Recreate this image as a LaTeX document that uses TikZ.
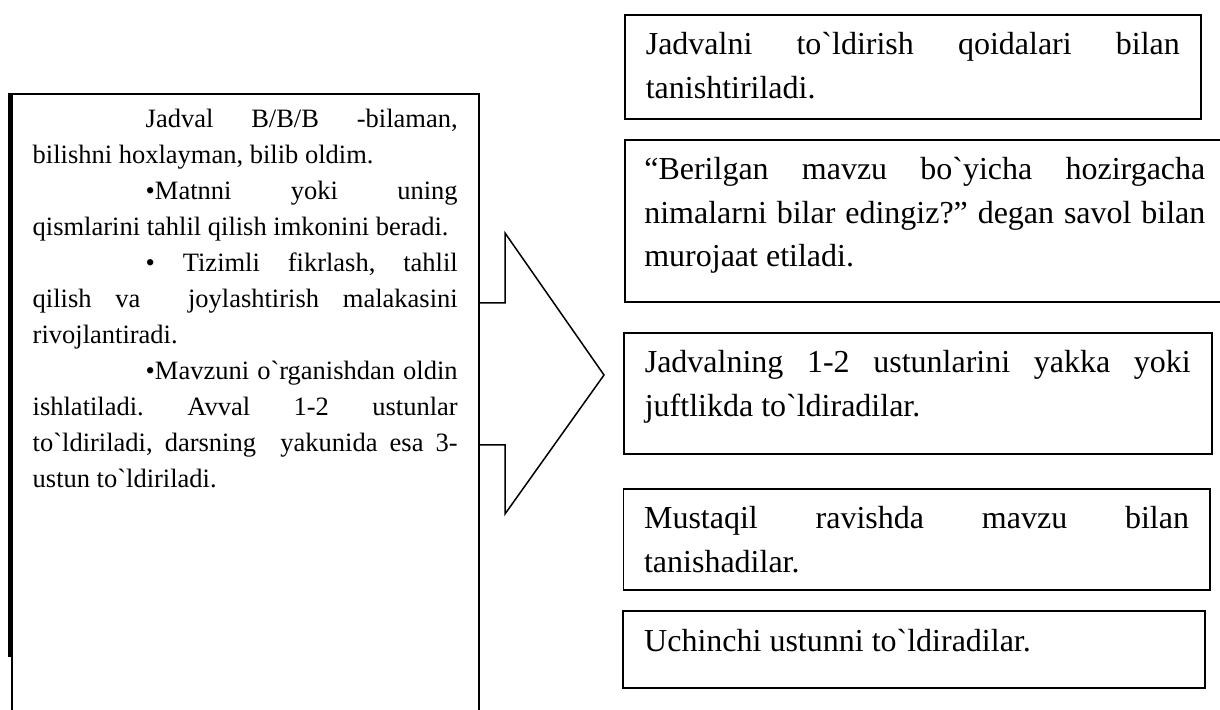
\documentclass[tikz,border=0pt]{standalone}
\usepackage{fontspec}
\setmainfont{Liberation Serif}
\newfontfamily\uz{Liberation Serif}
\hyphenpenalty=10000
\exhyphenpenalty=10000
\tolerance=10000
\frenchspacing
\begin{document}
\begin{tikzpicture}[x=0.5pt,y=-0.5pt]
\tikzstyle{lbox} = [draw=black, line width=0.9pt, anchor=north west, inner xsep=10.5pt, inner ysep=0pt, align=justify, font=\uz\fontsize{13.25pt}{18pt}\selectfont]
\tikzstyle{rbox} = [draw=black, line width=0.8pt, anchor=north west, inner sep=0pt, text height=20pt, align=justify, font=\uz\fontsize{16pt}{21.75pt}\selectfont]
\tikzstyle{arrowline} = [draw=black, line width=0.75pt, line join=miter]

\useasboundingbox (0,0) rectangle (1220,710);
\clip (0,0) rectangle (1220,710);

\node[lbox, text width=212.5pt, text height=17pt, text depth=316.5pt] (info) at (10.8,93) {\setlength\parindent{56.5pt}\hspace*{56.5pt}Jadval B/B/B -bilaman, \linebreak bilishni hoxlayman, bilib oldim.\par
•Matnni yoki uning \linebreak qismlarini tahlil qilish imkonini beradi.\par
• Tizimli fikrlash, tahlil \linebreak qilish va \ joylashtirish malakasini \linebreak rivojlantiradi.\par
•Mavzuni o`rganishdan oldin \linebreak ishlatiladi. Avval 1-2 ustunlar \linebreak to`ldiriladi, darsning \ yakunida esa 3-\linebreak ustun to`ldiriladi.};
\draw[line width=1.35pt] (9.3,93) -- (9.3,657);

\draw[arrowline] (478,303) -| (505,233) -- (604,375) -- (505,514) |- (478,445);

\node[rbox, text width=267pt, minimum width=288pt, text depth=32pt] (rules) at (624,14) {Jadvalni to`ldirish qoidalari bilan tanishtiriladi.};
\node[rbox, text width=280.5pt, minimum width=300pt, text depth=61pt] (question) at (624,139) {“Berilgan mavzu bo`yicha hozirgacha nimalarni bilar edingiz?” degan savol bilan murojaat etiladi.};
\node[rbox, text width=273pt, minimum width=294pt, text depth=40.5pt] (columns) at (623,332) {Jadvalning 1-2 ustunlarini yakka yoki juftlikda to`ldiradilar.};
\node[rbox, text width=272.5pt, minimum width=293.25pt, text depth=30.5pt] (topic) at (622.5,488) {Mustaqil ravishda mavzu bilan tanishadilar.};
\node[rbox, line width=1.2pt, text width=270pt, minimum width=291pt, text depth=18.5pt] (third) at (622,610) {Uchinchi ustunni to`ldiradilar.};
\end{tikzpicture}
\end{document}
